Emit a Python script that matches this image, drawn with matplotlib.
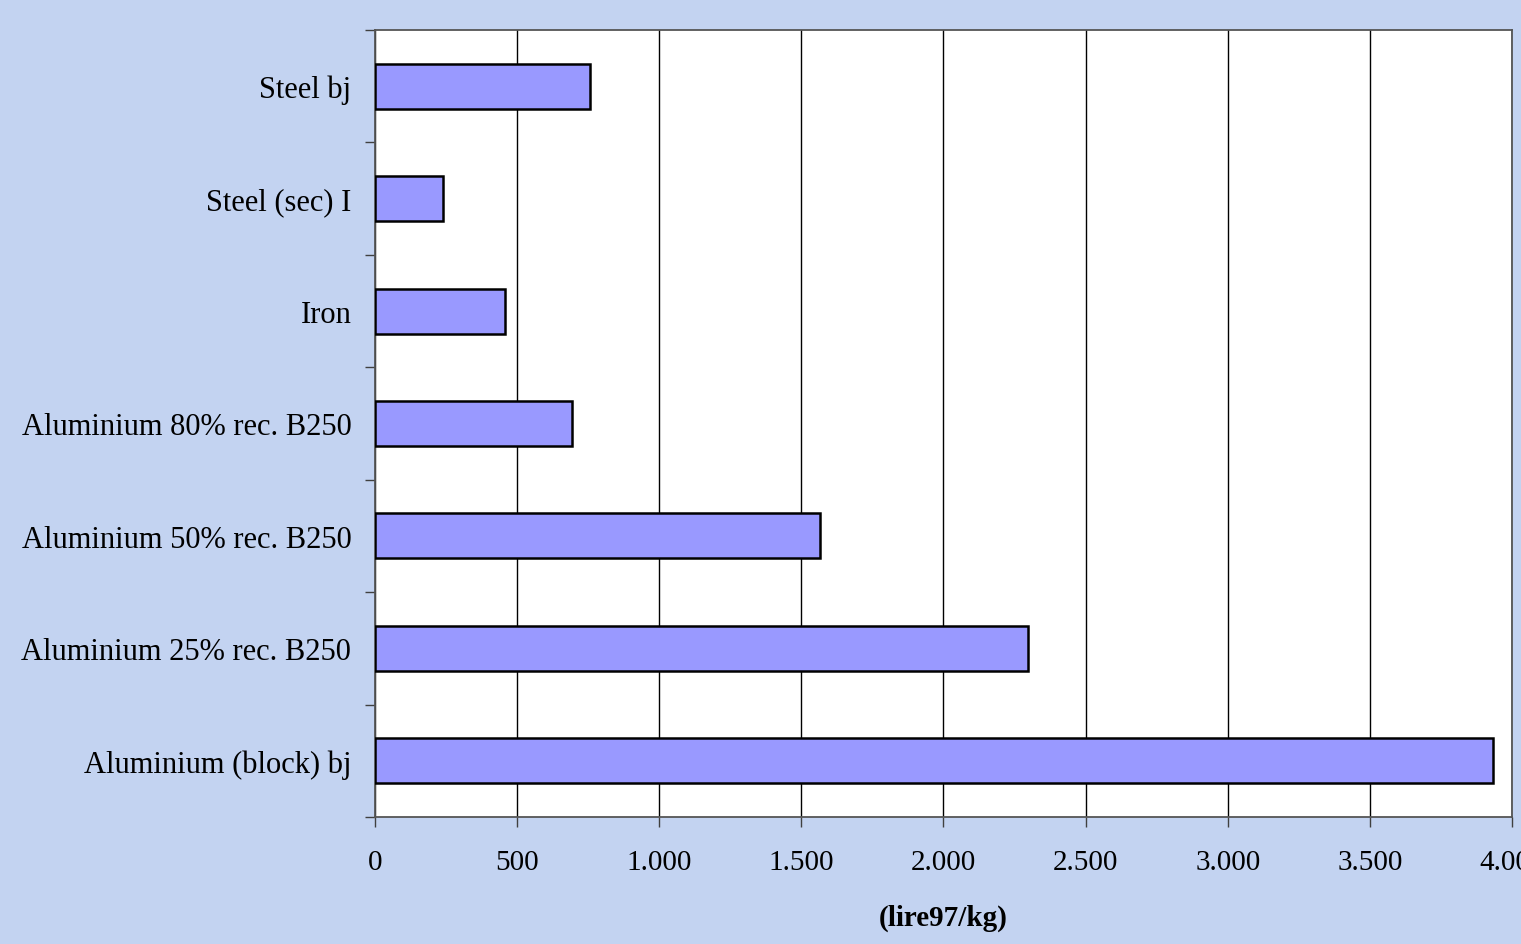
#!/usr/bin/env python3
"""Horizontal bar chart: material cost per kg (lire97/kg)."""

import matplotlib.pyplot as plt
import numpy as np
from matplotlib.ticker import FuncFormatter, MultipleLocator

# categories listed bottom -> top
materials = [
    "Aluminium (block) bj",
    "Aluminium 25% rec. B250",
    "Aluminium 50% rec. B250",
    "Aluminium 80% rec. B250",
    "Iron",
    "Steel (sec) I",
    "Steel bj",
]
cost = [3933, 2296, 1567, 694, 458, 239, 757]

BG = "#c3d3f1"
BAR = "#9999ff"
FONT = ["Liberation Serif", "DejaVu Serif"]


def thousands(v, _pos):
    return f"{int(v):,}".replace(",", ".")


def main() -> None:
    plt.rcParams["font.family"] = FONT
    fig = plt.figure(figsize=(15.21, 9.45), dpi=100, facecolor=BG)
    ax = fig.add_axes([0.2465, 0.1344, 0.7476, 0.8328])
    ax.set_facecolor("white")

    y = np.arange(len(materials))
    ax.barh(y, cost, height=0.4, color=BAR, edgecolor="black", linewidth=1.8, zorder=3)

    ax.set_xlim(0, 4000)
    ax.set_ylim(-0.5, len(materials) - 0.5)
    ax.xaxis.set_major_locator(MultipleLocator(500))
    ax.xaxis.set_major_formatter(FuncFormatter(thousands))
    ax.grid(axis="x", color="black", linewidth=1.0, zorder=1)

    # category labels sit between the boundary ticks
    ax.set_yticks(np.arange(-0.5, len(materials), 1.0))
    ax.set_yticklabels([])
    ax.set_yticks(y, minor=True)
    ax.set_yticklabels(materials, minor=True)
    ax.tick_params(axis="y", which="major", direction="out", length=7, width=1, color="#404040")
    ax.tick_params(axis="y", which="minor", length=0, pad=17, labelsize=22)
    ax.tick_params(axis="x", direction="out", length=7, width=1, color="#404040",
                   pad=16, labelsize=21)

    for side in ("left", "right", "top", "bottom"):
        ax.spines[side].set_color("#555555")
        ax.spines[side].set_linewidth(1.3)

    ax.set_xlabel("(lire97/kg)", fontsize=21, fontweight="bold", labelpad=21)

    fig.savefig("out.png", dpi=100, facecolor=BG)
    plt.close(fig)


if __name__ == "__main__":
    main()
